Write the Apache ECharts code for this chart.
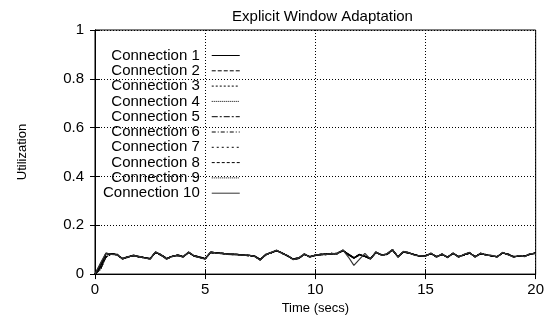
<!DOCTYPE html>
<html>
<head>
<meta charset="utf-8">
<script src="https://cdn.jsdelivr.net/npm/echarts@6/dist/echarts.min.js"></script>
<style>
  html, body { margin: 0; padding: 0; background: #fff; }
  #chart { width: 547px; height: 320px; }
</style>
</head>
<body>
<div id="chart"></div>
<script>
// sample spacing of the traces (secs)
const timeStep = 0.25;
const connectionNames = ["Connection 1", "Connection 2", "Connection 3", "Connection 4", "Connection 5",
  "Connection 6", "Connection 7", "Connection 8", "Connection 9", "Connection 10"];
const xTicks = [0, 5, 10, 15, 20];
const yTicks = [0, 0.2, 0.4, 0.6, 0.8, 1];

// utilisation traces (one value per 0.25 s)
const utilA = [0.0, 0.04, 0.085, 0.082, 0.08, 0.062, 0.07, 0.077, 0.072, 0.067,
  0.062, 0.09, 0.078, 0.062, 0.073, 0.077, 0.07, 0.09, 0.074, 0.068,
  0.062, 0.09, 0.087, 0.085, 0.083, 0.082, 0.08, 0.078, 0.077, 0.073,
  0.058, 0.08, 0.088, 0.097, 0.085, 0.075, 0.06, 0.065, 0.082, 0.07,
  0.078, 0.08, 0.082, 0.083, 0.085, 0.098, 0.08, 0.065, 0.08, 0.072,
  0.062, 0.09, 0.078, 0.082, 0.1, 0.07, 0.092, 0.088, 0.078, 0.075,
  0.074, 0.085, 0.07, 0.082, 0.068, 0.086, 0.07, 0.08, 0.088, 0.07,
  0.085, 0.078, 0.076, 0.07, 0.088, 0.08, 0.07, 0.075, 0.072, 0.083, 0.085];
const utilB = [0.0, 0.03, 0.082, 0.084, 0.078, 0.064, 0.072, 0.075, 0.07, 0.068,
  0.064, 0.088, 0.08, 0.064, 0.071, 0.079, 0.072, 0.088, 0.076, 0.07,
  0.064, 0.088, 0.085, 0.086, 0.081, 0.08, 0.081, 0.077, 0.075, 0.074,
  0.06, 0.078, 0.09, 0.095, 0.087, 0.073, 0.062, 0.067, 0.08, 0.072,
  0.076, 0.082, 0.08, 0.085, 0.083, 0.096, 0.082, 0.067, 0.078, 0.074,
  0.064, 0.088, 0.08, 0.08, 0.098, 0.072, 0.09, 0.086, 0.08, 0.073,
  0.076, 0.083, 0.072, 0.08, 0.07, 0.084, 0.072, 0.078, 0.086, 0.072,
  0.083, 0.08, 0.074, 0.072, 0.086, 0.082, 0.072, 0.073, 0.074, 0.081, 0.087];
const utilC = [0.0, 0.02, 0.07, 0.083, 0.081, 0.063, 0.069, 0.078, 0.071, 0.066,
  0.063, 0.089, 0.077, 0.063, 0.074, 0.076, 0.071, 0.089, 0.073, 0.069,
  0.063, 0.089, 0.088, 0.084, 0.084, 0.081, 0.079, 0.079, 0.076, 0.072,
  0.059, 0.081, 0.087, 0.096, 0.086, 0.074, 0.061, 0.064, 0.081, 0.071,
  0.077, 0.079, 0.083, 0.082, 0.086, 0.097, 0.079, 0.066, 0.081, 0.073,
  0.063, 0.089, 0.079, 0.081, 0.099, 0.071, 0.091, 0.087, 0.079, 0.074,
  0.075, 0.084, 0.071, 0.081, 0.069, 0.085, 0.071, 0.079, 0.087, 0.071,
  0.084, 0.079, 0.075, 0.071, 0.087, 0.081, 0.071, 0.074, 0.073, 0.082, 0.086];
const utilD = [0.0, 0.045, 0.086, 0.081, 0.079, 0.063, 0.071, 0.076, 0.073, 0.066,
  0.061, 0.091, 0.079, 0.061, 0.072, 0.078, 0.069, 0.091, 0.075, 0.067,
  0.061, 0.091, 0.086, 0.084, 0.082, 0.083, 0.079, 0.078, 0.078, 0.072,
  0.057, 0.079, 0.089, 0.098, 0.084, 0.076, 0.059, 0.066, 0.083, 0.069,
  0.079, 0.079, 0.081, 0.084, 0.084, 0.099, 0.07, 0.036, 0.06, 0.085,
  0.061, 0.091, 0.077, 0.083, 0.101, 0.069, 0.093, 0.087, 0.077, 0.076,
  0.073, 0.086, 0.069, 0.083, 0.067, 0.087, 0.069, 0.081, 0.089, 0.069,
  0.086, 0.077, 0.077, 0.069, 0.089, 0.079, 0.069, 0.076, 0.071, 0.084, 0.084];

const traceFor = [utilA, utilB, utilC, utilA, utilB, utilC, utilA, utilB, utilC, utilD];
const dashFor = ["solid", [4, 2], [2, 2], [1, 1], [6, 2, 2, 2], [4, 2, 1, 2], [2, 3], [3, 2], [1, 1], "solid"];
const colorFor = ["#000", "#000", "#000", "#000", "#000", "#000", "#000", "#000", "#000", "#333"];

const font = "'Liberation Sans', Arial, Helvetica, sans-serif";

const series = connectionNames.map((name, i) => ({
  name: name,
  type: "line",
  symbol: "none",
  animation: false,
  data: traceFor[i].map((v, k) => [k * timeStep, v]),
  lineStyle: { color: colorFor[i], width: 1.2, type: dashFor[i] },
  itemStyle: { color: colorFor[i] },
}));

const chart = echarts.init(document.getElementById("chart"));
chart.setOption({
  animation: false,
  title: {
    text: "Explicit Window Adaptation",
    left: 317.5,
    textAlign: "center",
    top: 4,
    textStyle: { fontFamily: font, fontSize: 15, fontWeight: "normal", color: "#000" },
  },
  legend: {
    orient: "vertical",
    align: "right",
    left: 103,
    top: 48,
    padding: 0,
    itemGap: 0.3,
    itemWidth: 28,
    itemHeight: 15,
    data: connectionNames,
    itemStyle: { color: "rgba(0,0,0,0)", borderWidth: 0, opacity: 0 },
    lineStyle: { width: 1 },
    textStyle: {
      fontFamily: font, fontSize: 15, color: "#000",
      width: 103, align: "right", padding: [0, 7, 0, 0],
    },
  },
  grid: { left: 95, right: 7, top: 30, bottom: 43, show: true, borderColor: "#000", borderWidth: 1 },
  xAxis: [
    {
      type: "value",
      min: xTicks[0], max: xTicks[xTicks.length - 1], interval: 5,
      name: "Time (secs)", nameLocation: "middle", nameGap: 24,
      nameTextStyle: { fontFamily: font, fontSize: 13, color: "#000" },
      axisLine: { show: true, lineStyle: { color: "#000" } },
      axisTick: { inside: true, length: 5, lineStyle: { color: "#000" } },
      axisLabel: { fontFamily: font, fontSize: 15, color: "#000", margin: 8 },
      splitLine: { show: true, lineStyle: { color: "#000", type: [1, 2] } },
    },
    {
      type: "value", position: "top",
      min: xTicks[0], max: xTicks[xTicks.length - 1], interval: 5,
      axisLine: { show: true, lineStyle: { color: "#000" } },
      axisTick: { inside: true, length: 5, lineStyle: { color: "#000" } },
      axisLabel: { show: false },
      splitLine: { show: false },
    },
  ],
  yAxis: [
    {
      type: "value",
      min: yTicks[0], max: yTicks[yTicks.length - 1], interval: 0.2,
      name: "Utilization", nameLocation: "middle", nameGap: 66,
      nameTextStyle: { fontFamily: font, fontSize: 13, color: "#000" },
      axisLine: { show: true, lineStyle: { color: "#000" } },
      axisTick: { inside: true, length: 5, lineStyle: { color: "#000" } },
      axisLabel: { fontFamily: font, fontSize: 15, color: "#000", margin: 11 },
      splitLine: { show: true, lineStyle: { color: "#000", type: [1, 2] } },
    },
    {
      type: "value", position: "right",
      min: yTicks[0], max: yTicks[yTicks.length - 1], interval: 0.2,
      axisLine: { show: true, lineStyle: { color: "#000" } },
      axisTick: { inside: true, length: 5, lineStyle: { color: "#000" } },
      axisLabel: { show: false },
      splitLine: { show: false },
    },
  ],
  series: series,
});
</script>
</body>
</html>
